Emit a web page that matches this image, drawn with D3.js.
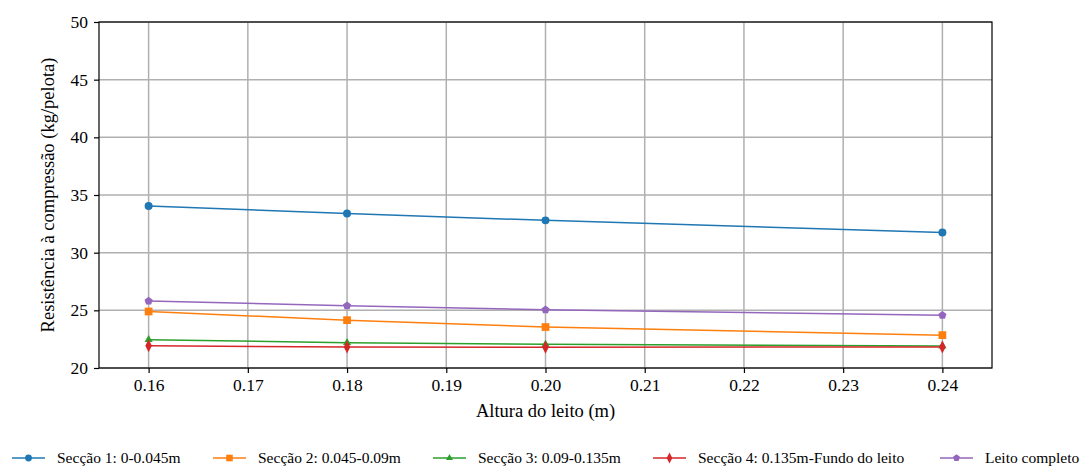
<!DOCTYPE html>
<html>
<head>
<meta charset="utf-8">
<script src="https://cdn.jsdelivr.net/npm/d3@7"></script>
<style>
  body { margin: 0; background: #fff; }
  svg text { font-family: "Liberation Serif", "Times New Roman", serif; }
</style>
</head>
<body>
<svg id="chart" width="1081" height="466"></svg>
<script>
// Bed heights (m)
const alturas = [0.16, 0.18, 0.20, 0.24];

// Compressive strength per section (kg/pelota)
const seccao1 = [34.05, 33.4, 32.8, 31.75];
const seccao2 = [24.9, 24.15, 23.55, 22.85];
const seccao3 = [22.45, 22.2, 22.05, 21.9];
const seccao4 = [21.93, 21.82, 21.8, 21.82];
const leitoCompleto = [25.8, 25.4, 25.05, 24.57];

const seriesNames = [
  "Secção 1: 0-0.045m",
  "Secção 2: 0.045-0.09m",
  "Secção 3: 0.09-0.135m",
  "Secção 4: 0.135m-Fundo do leito",
  "Leito completo"
];
const seriesColors = ["#1f77b4", "#ff7f0e", "#2ca02c", "#d62728", "#9467bd"];
const seriesMarkers = ["circle", "square", "triangle", "diamond", "pentagon"];

const xTicks = [0.16, 0.17, 0.18, 0.19, 0.20, 0.21, 0.22, 0.23, 0.24];
const yTicks = [20, 25, 30, 35, 40, 45, 50];

const FONT = '"Liberation Serif", "Times New Roman", serif';

const series = [seccao1, seccao2, seccao3, seccao4, leitoCompleto].map((vals, i) => ({
  name: seriesNames[i], color: seriesColors[i], marker: seriesMarkers[i],
  points: alturas.map((a, j) => ({ x: a, y: vals[j] }))
}));

const svg = d3.select("#chart");
const margin = { left: 99, right: 89, top: 22, bottom: 98 };
const W = 1081, H = 466;

const x = d3.scaleLinear().domain([0.155, 0.245]).range([margin.left, W - margin.right]);
const y = d3.scaleLinear().domain([20, 50]).range([H - margin.bottom, margin.top]);

// Grid
const grid = svg.append("g");
grid.selectAll("line.vx").data(xTicks).join("line")
  .attr("x1", d => x(d)).attr("x2", d => x(d))
  .attr("y1", y(20)).attr("y2", y(50))
  .attr("stroke", "#b0b0b0").attr("stroke-width", 1.5);
grid.selectAll("line.hy").data(yTicks).join("line")
  .attr("y1", d => y(d)).attr("y2", d => y(d))
  .attr("x1", x(0.155)).attr("x2", x(0.245))
  .attr("stroke", "#b0b0b0").attr("stroke-width", 1.5);

// Axes
const xAxis = d3.axisBottom(x).tickValues(xTicks).tickFormat(d3.format(".2f")).tickSizeOuter(0).tickSize(5).tickPadding(6);
const yAxis = d3.axisLeft(y).tickValues(yTicks).tickFormat(d3.format("d")).tickSizeOuter(0).tickSize(5).tickPadding(6);

const gx = svg.append("g").attr("transform", `translate(0,${y(20)})`).call(xAxis);
const gy = svg.append("g").attr("transform", `translate(${x(0.155)},0)`).call(yAxis);
[gx, gy].forEach(g => {
  g.attr("font-family", FONT).attr("font-size", 17.5);
  g.select(".domain").remove();
  g.selectAll(".tick line").attr("stroke", "#000").attr("stroke-width", 1.2);
  g.selectAll(".tick text").style("font-family", FONT).attr("font-size", 17.5).attr("fill", "#000");
});

// Frame
svg.append("rect")
  .attr("x", x(0.155)).attr("y", y(50))
  .attr("width", x(0.245) - x(0.155)).attr("height", y(20) - y(50))
  .attr("fill", "none").attr("stroke", "#000").attr("stroke-width", 1.2);

// Marker symbols (scale k shrinks them for the legend)
function symbolFor(m, k = 1) {
  switch (m) {
    case "circle": return d3.symbol(d3.symbolCircle, 50 * k * k)();
    case "square": return d3.symbol(d3.symbolSquare, 60 * k * k)();
    case "triangle": return d3.symbol(d3.symbolTriangle2, 48 * k * k)();
    case "diamond": return `M0,${-6.5 * k}L${3.3 * k},0L0,${6.5 * k}L${-3.3 * k},0Z`;
    case "pentagon": {
      const r = 4.3 * k;
      const pts = d3.range(5).map(i => {
        const a = -Math.PI / 2 + i * 2 * Math.PI / 5;
        return [r * Math.cos(a), r * Math.sin(a)];
      });
      return "M" + pts.map(p => p.join(",")).join("L") + "Z";
    }
  }
}

const line = d3.line().x(d => x(d.x)).y(d => y(d.y));
const plot = svg.append("g");
series.forEach(s => {
  plot.append("path").datum(s.points)
    .attr("d", line).attr("fill", "none")
    .attr("stroke", s.color).attr("stroke-width", 1.5);
  plot.selectAll(null).data(s.points).join("path")
    .attr("d", symbolFor(s.marker))
    .attr("transform", d => `translate(${x(d.x)},${y(d.y)})`)
    .attr("fill", s.color);
});

// Axis titles
svg.append("text")
  .attr("x", (x(0.155) + x(0.245)) / 2).attr("y", 417)
  .attr("text-anchor", "middle").attr("font-size", 18.5).attr("fill", "#000")
  .style("font-family", FONT)
  .text("Altura do leito (m)");
svg.append("text")
  .attr("transform", `translate(54,${(y(20) + y(50)) / 2}) rotate(-90)`)
  .attr("text-anchor", "middle").attr("font-size", 18.5).attr("fill", "#000")
  .style("font-family", FONT)
  .text("Resistência à compressão (kg/pelota)");

// Legend
const legendX = [12, 213, 433, 653, 940];
const legendY = 458;
const lg = svg.append("g");
series.forEach((s, i) => {
  const g = lg.append("g").attr("transform", `translate(${legendX[i]},${legendY})`);
  g.append("line").attr("x1", 0).attr("x2", 33).attr("y1", 0).attr("y2", 0)
    .attr("stroke", s.color).attr("stroke-width", 1.5);
  g.append("path").attr("d", symbolFor(s.marker, 0.85)).attr("transform", "translate(16.5,0)").attr("fill", s.color);
  g.append("text").attr("x", 45).attr("y", 5).attr("font-size", 15.5).attr("fill", "#000")
    .style("font-family", FONT).text(s.name);
});
</script>
</body>
</html>
